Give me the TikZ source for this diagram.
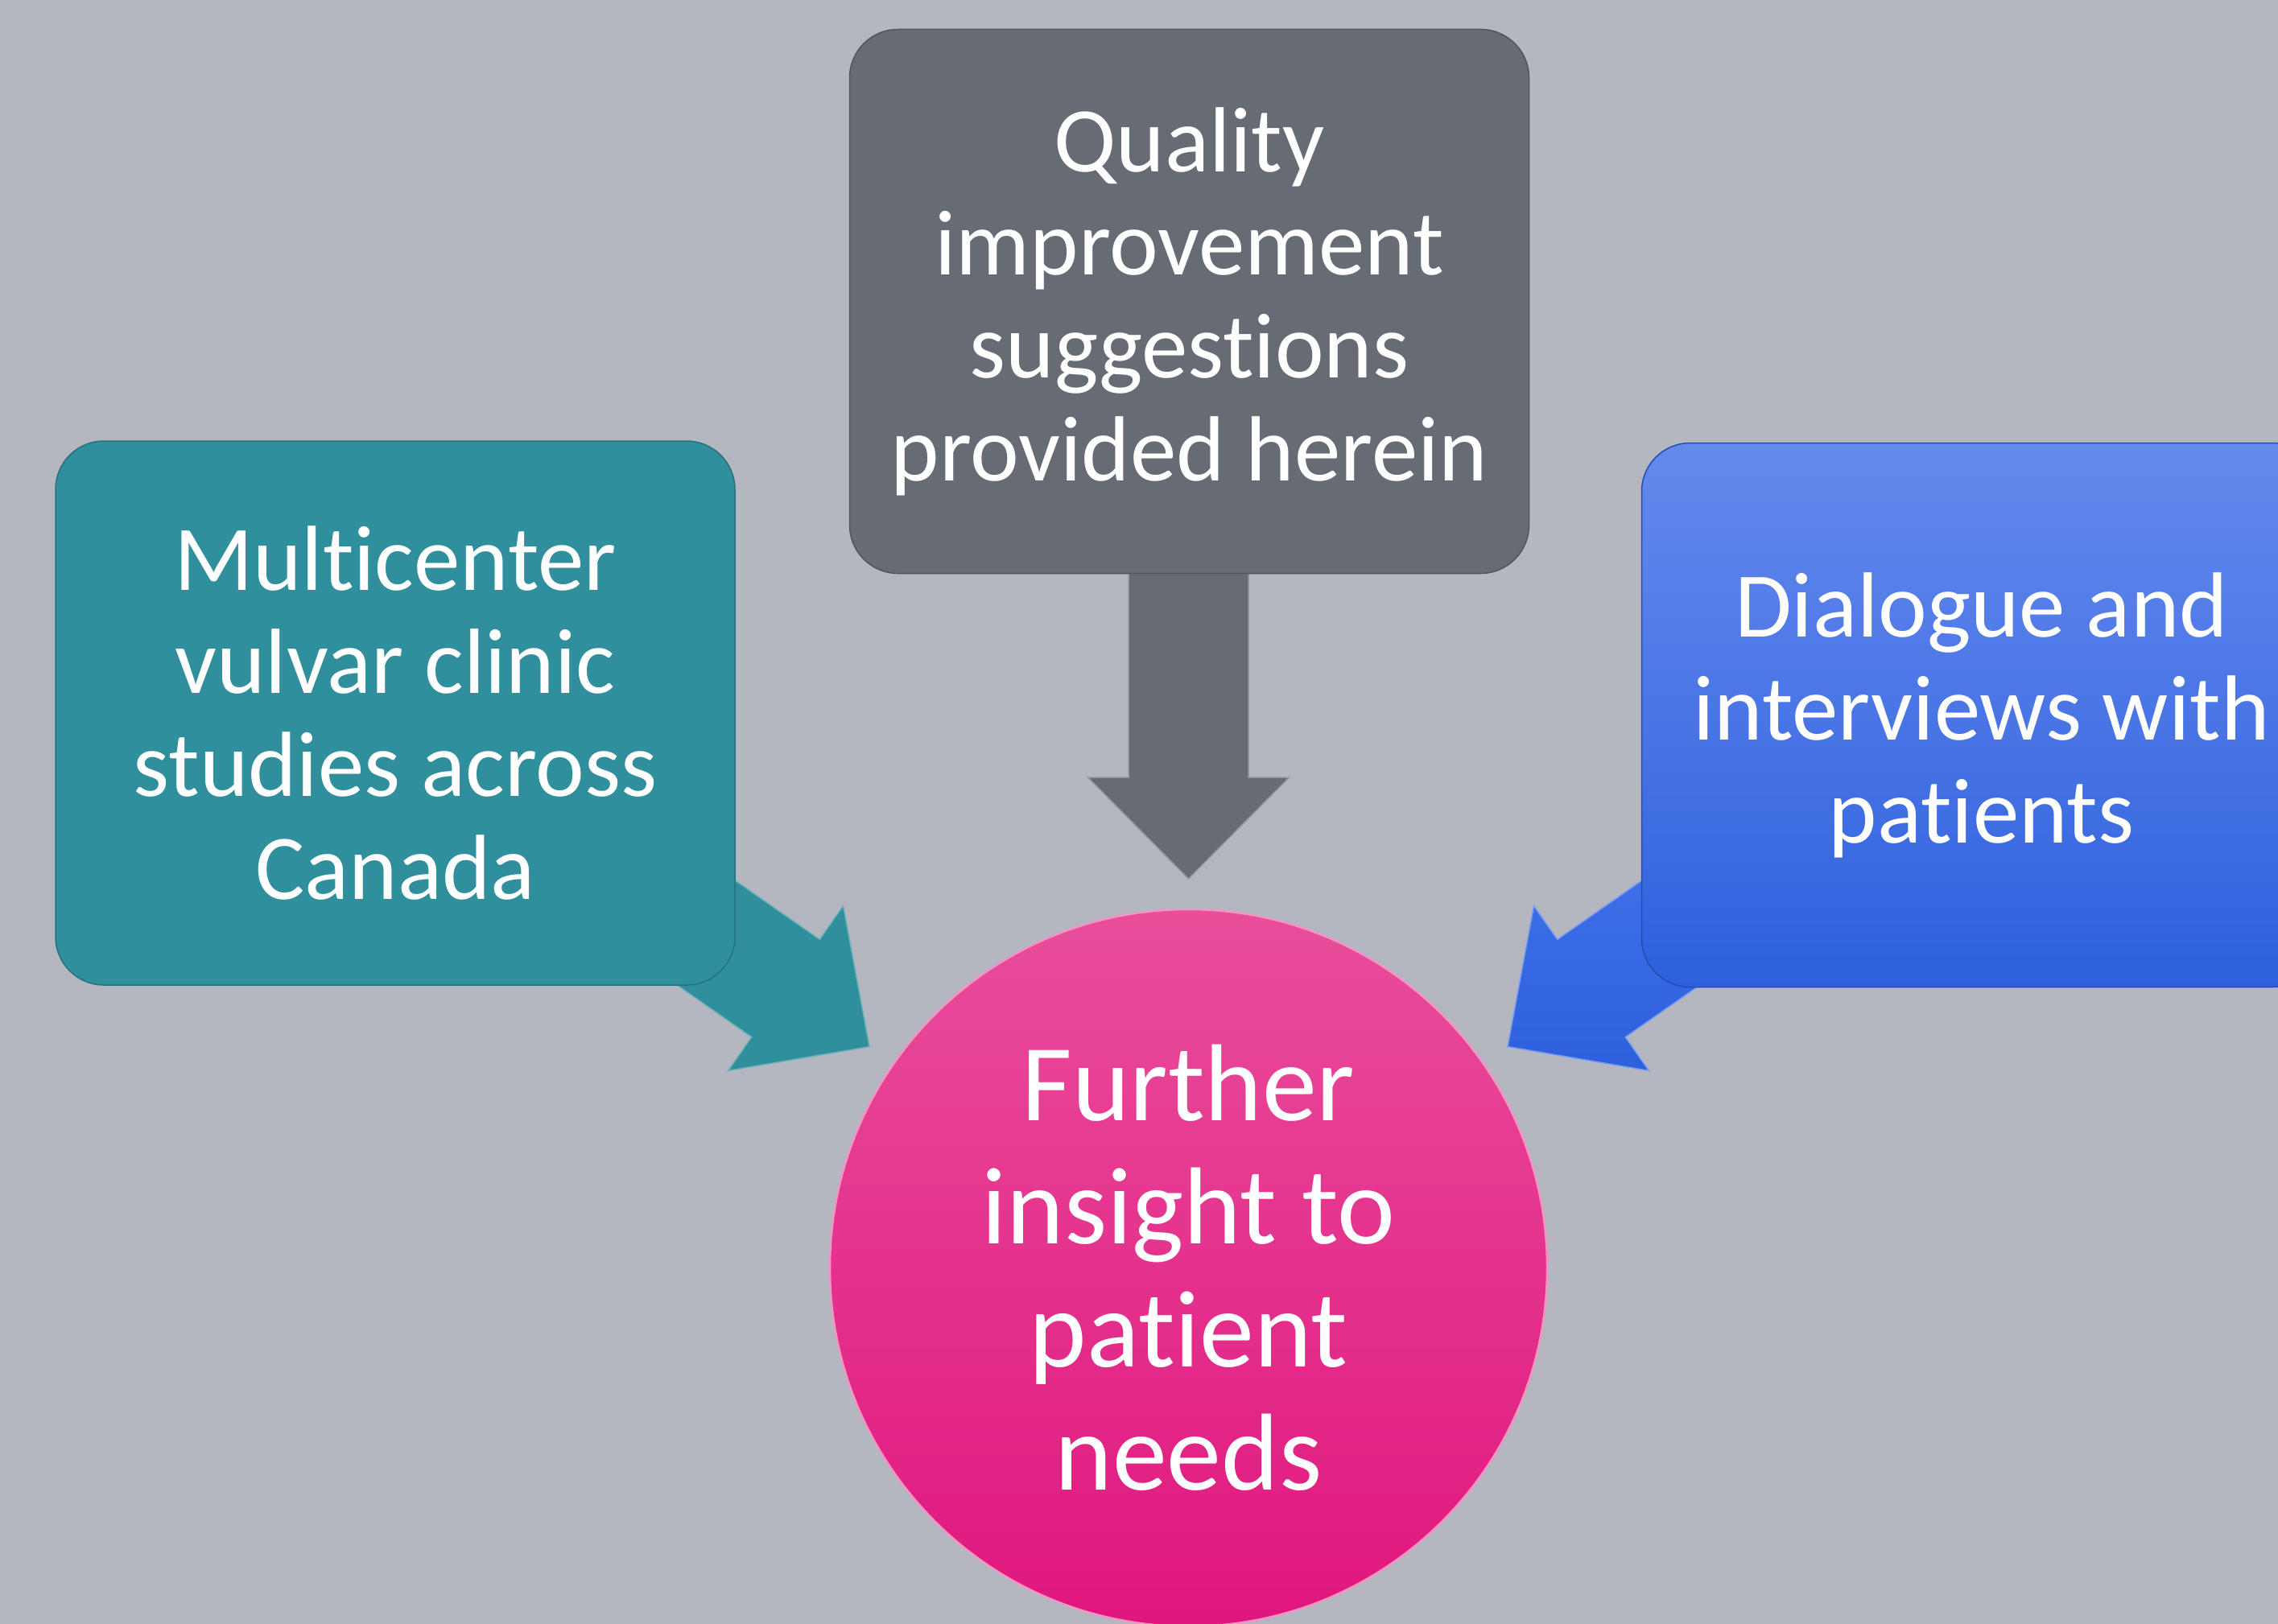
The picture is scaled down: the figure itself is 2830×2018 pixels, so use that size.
\documentclass[tikz,border=0pt]{standalone}
\usepackage{fontspec}
\setmainfont{Carlito}[Ligatures={NoCommon,NoContextual}]
\definecolor{bg}{RGB}{180,183,191}
\definecolor{grayc}{RGB}{103,107,115}
\definecolor{tealc}{RGB}{47,143,156}
\definecolor{bluetop}{RGB}{101,138,238}
\definecolor{bluebot}{RGB}{46,96,221}
\definecolor{bluearrtop}{RGB}{66,115,235}
\definecolor{pinktop}{RGB}{233,78,155}
\definecolor{pinkbot}{RGB}{224,22,126}
\begin{document}
\begin{tikzpicture}[x=1pt,y=-1pt,
  boxstyle/.style={rectangle, rounded corners=60pt, minimum width=844pt, minimum height=676pt,
    line width=1.5pt, text=white, align=center, inner sep=0pt,
    font=\fontsize{115pt}{128pt}\selectfont},
  goalstyle/.style={circle, minimum size=891pt, inner sep=0pt, line width=2.5pt,
    text=white, align=center, font=\fontsize{136pt}{153pt}\selectfont}]
\useasboundingbox (0,0) rectangle (2830,2018);
\fill[bg] (0,0) rectangle (2830,2018);
\clip (0,0) rectangle (2830,2018);
% block arrows (behind the boxes)
\coordinate (tealtip) at (1080.1,1300.6);
\coordinate (bluetip) at (1872.9,1300.6);
\coordinate (graytip) at (1476.5,1092);
\fill[tealc, draw=tealc!70!white, line width=1.5pt]
  (813.3,1024.3) -- (1018.3,1167.3) -- (1047.5,1125.5) -- (tealtip)
  -- (904.5,1330.5) -- (933.7,1288.7) -- (728.7,1145.7) -- cycle;
\shade[top color=bluearrtop, bottom color=bluebot, draw=bluearrtop!70!white, line width=1.5pt]
  (2139.7,1024.3) -- (1934.7,1167.3) -- (1905.5,1125.5) -- (bluetip)
  -- (2048.5,1330.5) -- (2019.3,1288.7) -- (2224.3,1145.7) -- cycle;
\fill[grayc, draw=grayc!70!white, line width=1.5pt]
  (1402,600) -- (1551,600) -- (1551,966) -- (1601.5,966) -- (graytip)
  -- (1351.5,966) -- (1402,966) -- cycle;
% boxes
\node[boxstyle, fill=tealc, draw=tealc!80!black] (teal) at (491,886)
  {Multicenter\\vulvar clinic\\studies across\\Canada};
\node[boxstyle, fill=grayc, draw=grayc!80!black] (gray) at (1477.5,374.5)
  {Quality\\improvement\\suggestions\\provided herein};
\node[boxstyle, top color=bluetop, bottom color=bluebot, draw=bluebot!80!black] (blue) at (2461.5,888.5)
  {Dialogue and\\interviews with\\patients};
% goal circle
\node[goalstyle, top color=pinktop, bottom color=pinkbot, draw=pinktop!60!white] (goal) at (1476.5,1575.5)
  {Further\\insight to\\patient\\needs};
\end{tikzpicture}
\end{document}
